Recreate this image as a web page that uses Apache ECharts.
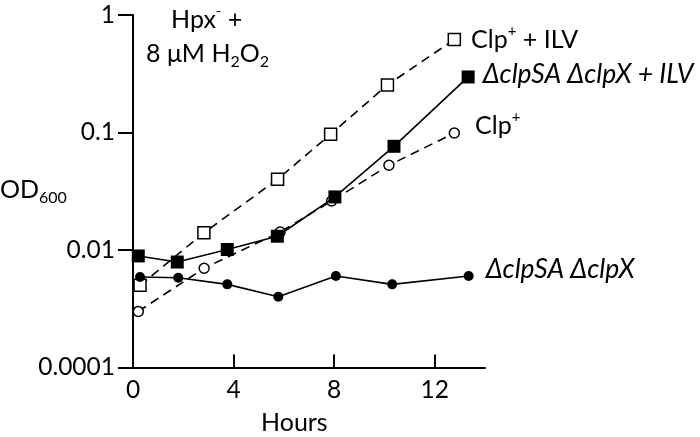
<!DOCTYPE html>
<html>
<head>
<meta charset="utf-8">
<script src="https://cdn.jsdelivr.net/npm/echarts@6/dist/echarts.min.js"></script>
<style>
html,body{margin:0;padding:0;background:#fff;}
#chart{width:700px;height:437px;}
</style>
</head>
<body>
<div id="chart"></div>
<script>
// ---- Data ----
const xTicks = [0, 4, 8, 12];
const yTickValues = [0.001, 0.01, 0.1, 1];
const yTickLabels = ['0.0001', '0.01', '0.1', '1'];

// ΔclpSA ΔclpX (filled circles, solid)
const hoursA = [0.28, 1.8, 3.75, 5.78, 8.07, 10.31, 13.35];
const odA    = [0.0059, 0.0058, 0.0051, 0.0040, 0.0060, 0.0051, 0.0060];
// ΔclpSA ΔclpX + ILV (filled squares, solid)
const hoursB = [0.21, 1.76, 3.75, 5.74, 8.03, 10.38, 13.33];
const odB    = [0.0089, 0.0079, 0.0101, 0.0131, 0.0283, 0.0763, 0.297];
// Clp+ + ILV (open squares, dashed)
const hoursC = [0.28, 2.82, 5.75, 7.86, 10.12, 12.78];
const odC    = [0.0050, 0.0140, 0.040, 0.0966, 0.254, 0.618];
// Clp+ (open circles, dashed)
const hoursD = [0.21, 2.83, 5.85, 7.9, 10.18, 12.78];
const odD    = [0.0030, 0.0070, 0.0142, 0.0261, 0.0526, 0.099];

const FONT = 'Lato';
const rich = {
  n:  {fontFamily: FONT, fontSize: 25, color: '#000', lineHeight: 32},
  i:  {fontFamily: FONT, fontSize: 26.5, color: '#000', fontStyle: 'italic', lineHeight: 32},
  sup:{fontFamily: FONT, fontSize: 15, color: '#000', lineHeight: 32, verticalAlign: 'top'},
  sub:{fontFamily: FONT, fontSize: 16, color: '#000', lineHeight: 32, verticalAlign: 'bottom'}
};

function buildData(hs, vs, labelText, labelOpt) {
  return hs.map((h, k) => {
    const item = {value: [h, vs[k]]};
    if (k === hs.length - 1) {
      item.label = Object.assign({
        show: true, position: 'right', formatter: labelText, rich: rich
      }, labelOpt);
    }
    return item;
  });
}

const chart = echarts.init(document.getElementById('chart'), null, {renderer: 'canvas'});
const axisLineStyle = {color: '#000', width: 2};

chart.setOption({
  animation: false,
  backgroundColor: '#fff',
  grid: {left: 133, top: 15, width: 352, height: 352.5, containLabel: false},
  xAxis: {
    type: 'value', min: 0, max: 14,
    axisLine: {show: true, lineStyle: axisLineStyle, onZero: false},
    axisTick: {show: true, inside: true, length: 13, lineStyle: axisLineStyle, customValues: xTicks},
    axisLabel: {show: true, customValues: xTicks, fontFamily: FONT, fontSize: 24.5, color: '#000', margin: 10},
    splitLine: {show: false}
  },
  yAxis: {
    type: 'log', logBase: 10, min: 0.001, max: 1,
    axisLine: {show: true, lineStyle: axisLineStyle, onZero: false},
    axisTick: {show: true, inside: false, length: 15, lineStyle: axisLineStyle, customValues: yTickValues},
    axisLabel: {
      show: true, customValues: yTickValues, fontFamily: FONT, fontSize: 24.5, color: '#000', margin: 18,
      formatter: function (v) {
        const e = Math.round(Math.log10(v));
        const idx = yTickValues.findIndex(t => Math.round(Math.log10(t)) === e);
        return idx >= 0 ? yTickLabels[idx] : '';
      }
    },
    splitLine: {show: false}
  },
  series: [
    {
      type: 'line', name: 'Clp+',
      data: buildData(hoursD, odD, '{n|Clp}{sup|+}', {distance: 15, offset: [0, -7]}),
      symbol: 'circle', symbolSize: 10,
      lineStyle: {color: '#000', width: 1.6, type: [9, 6]},
      itemStyle: {color: '#fff', borderColor: '#000', borderWidth: 1.5},
      z: 2
    },
    {
      type: 'line', name: 'Clp+ + ILV',
      data: buildData(hoursC, odC, '{n|Clp}{sup|+}{n| + ILV}', {distance: 10, offset: [0, 0]}),
      symbol: 'rect', symbolSize: 12,
      lineStyle: {color: '#000', width: 1.6, type: [9, 6]},
      itemStyle: {color: '#fff', borderColor: '#000', borderWidth: 1.5},
      z: 3
    },
    {
      type: 'line', name: 'ΔclpSA ΔclpX',
      data: buildData(hoursA, odA, '{i|ΔclpSA ΔclpX}', {distance: 12, offset: [0, -7]}),
      symbol: 'circle', symbolSize: 10,
      lineStyle: {color: '#000', width: 1.6},
      itemStyle: {color: '#000', borderColor: '#000', borderWidth: 0},
      z: 4
    },
    {
      type: 'line', name: 'ΔclpSA ΔclpX + ILV',
      data: buildData(hoursB, odB, '{i|ΔclpSA ΔclpX + ILV}', {distance: 8, offset: [0, -2]}),
      symbol: 'rect', symbolSize: 13,
      lineStyle: {color: '#000', width: 1.6},
      itemStyle: {color: '#000', borderColor: '#000', borderWidth: 0},
      z: 5
    }
  ],
  graphic: [
    {type: 'text', left: 171, top: 4, style: {text: '{n|Hpx}{sup|-}{n| +}', rich: rich}},
    {type: 'text', left: 146, top: 41, style: {text: '{n|8 μM H}{sub|2}{n|O}{sub|2}', rich: rich}},
    {type: 'text', left: 0, top: 177, style: {text: '{n|OD}{sub|600}', rich: rich}},
    {type: 'text', left: 261, top: 410, style: {text: '{n|Hours}', rich: rich}}
  ]
});
</script>
</body>
</html>
